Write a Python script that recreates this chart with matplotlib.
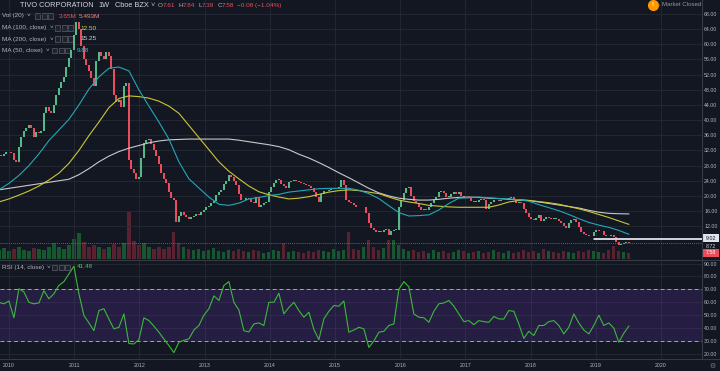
import numpy as np
import pandas as pd
import matplotlib
matplotlib.use('Agg')
import matplotlib.pyplot as plt
import matplotlib.dates as mdates
from matplotlib.patches import Rectangle
from matplotlib.lines import Line2D

# ---- data (biweekly closes, TIVO / ROVI weekly chart) ----
c2009 = [30.8, 30.5, 31.0, 31.5]
c2010 = [31.5, 31.2, 29.5, 29.0, 33.0, 35.5, 37.0, 38.0, 38.7, 38.0, 35.6, 36.8, 36.5,
         37.2, 41.9, 43.5, 42.5, 42.0, 44.0, 46.5, 48.5, 50.0, 51.5, 54.0, 56.5, 58.5]
c2011 = [62.5, 66.0, 64.0, 59.5, 56.0, 54.5, 53.0, 51.0, 49.0, 55.5, 58.0, 56.8, 56.0,
         58.0, 57.0, 53.5, 46.5, 44.7, 45.3, 43.5, 48.9, 49.8, 29.5, 27.0, 26.0, 24.5]
c2012 = [25.0, 30.0, 34.0, 34.8, 35.0, 33.8, 32.2, 30.5, 28.5, 26.0, 24.5, 23.4, 21.0,
         19.5, 18.8, 13.0, 14.8, 15.8, 15.0, 14.4, 13.8, 14.5, 14.8, 15.2, 15.0, 15.8]
c2013 = [16.2, 17.0, 17.4, 18.0, 18.6, 20.2, 21.0, 21.6, 23.2, 24.0, 25.5, 25.0, 24.0,
         22.9, 20.5, 18.9, 18.9, 19.5, 19.2, 18.5, 18.0, 19.6, 17.0, 17.5, 18.0, 18.3]
c2014 = [21.0, 22.3, 23.5, 24.2, 24.2, 23.2, 22.5, 22.0, 23.7, 24.0, 24.2, 24.0, 23.7,
         23.4, 23.2, 22.9, 22.5, 22.0, 21.0, 19.7, 18.4, 20.4, 21.2, 21.4, 21.6, 21.8]
c2015 = [22.0, 22.2, 22.4, 24.2, 22.9, 19.0, 18.4, 18.0, 17.5, 17.0, 17.0, 17.2, 17.0,
         15.5, 12.8, 11.6, 11.0, 10.5, 10.8, 10.5, 11.0, 11.3, 9.6, 10.8, 11.0, 11.0]
c2016 = [17.0, 19.0, 20.8, 22.1, 22.4, 20.0, 18.6, 18.0, 17.0, 16.3, 16.5, 16.2, 17.0,
         18.0, 19.0, 19.8, 21.0, 21.2, 20.8, 19.8, 19.8, 20.5, 21.0, 20.4, 21.0, 20.0]
c2017 = [19.4, 19.4, 19.6, 18.6, 18.4, 18.4, 18.9, 19.2, 18.8, 16.5, 17.8, 18.4, 18.8,
         18.9, 18.7, 18.9, 19.0, 18.9, 19.5, 19.8, 18.9, 18.0, 18.4, 18.2, 16.5, 15.5]
c2018 = [14.4, 14.0, 13.6, 14.3, 15.0, 13.3, 13.8, 14.4, 14.2, 14.0, 14.0, 14.0, 13.3,
         12.8, 12.0, 11.6, 12.8, 13.6, 13.8, 13.0, 11.8, 10.5, 10.0, 9.6, 9.3, 9.5]
c2019 = [10.5, 11.0, 10.7, 10.8, 9.8, 9.3, 9.4, 9.6, 9.2, 7.8, 7.1, 7.3, 7.6, 7.61, 7.58]

# moving averages, sampled every 8 weeks
ma50 = [21.6, 23.3, 25.4, 28.0, 31.1, 34.6, 37.4, 40.2, 44.0, 48.2, 51.4, 53.7, 54.0, 53.0,
        48.0, 43.7, 39.5, 35.0, 29.0, 24.5, 22.1, 19.7, 17.8, 17.5, 18.1, 19.2, 19.6, 20.1,
        20.4, 21.0, 21.3, 21.6, 21.9, 22.0, 22.0, 22.0, 21.5, 20.6, 19.3, 17.4, 15.6, 14.7,
        14.8, 15.0, 16.3, 18.0, 19.4, 19.5, 19.7, 19.5, 19.3, 19.2, 19.0, 18.6, 17.7, 16.9,
        16.1, 15.1, 14.0, 13.0, 12.3, 11.7, 10.9, 9.88]
ma100 = [18.4, 19.2, 20.2, 21.3, 22.6, 24.2, 26.0, 28.6, 32.0, 35.9, 39.5, 43.3, 45.7, 46.4,
         46.2, 45.8, 45.0, 43.7, 41.8, 38.6, 35.4, 32.2, 29.0, 26.5, 24.5, 22.6, 21.1, 20.3,
         19.7, 19.2, 19.4, 19.8, 20.4, 21.0, 21.4, 21.6, 21.4, 21.0, 20.6, 19.7, 18.9, 18.4,
         18.0, 17.5, 17.3, 17.1, 17.0, 17.0, 17.0, 17.0, 17.6, 18.4, 18.8, 18.8, 18.5, 18.2,
         17.8, 17.2, 16.6, 15.9, 15.1, 14.3, 13.4, 12.5]
ma200 = [21.6, 22.0, 22.4, 22.8, 23.2, 23.6, 24.0, 24.4, 25.6, 27.2, 29.0, 30.5, 31.7, 32.6,
         33.3, 34.0, 34.5, 34.8, 34.9, 35.0, 35.0, 35.0, 35.0, 35.0, 34.7, 34.3, 33.9, 33.5,
         33.0, 32.2, 31.0, 30.0, 28.8, 27.5, 26.1, 24.8, 23.4, 22.0, 20.8, 20.0, 19.4, 19.1,
         18.9, 18.9, 19.1, 19.4, 19.6, 19.7, 19.6, 19.4, 19.3, 19.1, 19.0, 18.8, 18.4, 18.0,
         17.6, 17.2, 16.8, 16.2, 15.7, 15.4, 15.3, 15.25]

# RSI(14) and volume, sampled every 4 weeks
rsi = [60, 58.8, 61, 48, 70.5, 68, 60, 58.8, 59.5, 69, 62.7, 66.6, 73.1, 76, 82, 88, 66.6,
       49.7, 44, 38, 53.6, 55, 47, 39.4, 40.6, 51, 28, 27.7, 31, 48, 45.8, 41.5, 36.8, 31.5,
       26.4, 21, 29, 30.5, 31.6, 38.5, 42, 50, 55, 65, 61.4, 73, 76, 60, 54,
       38, 37, 43.2, 44, 42, 60, 60, 67, 51, 56, 60, 53.6, 48.4, 52.3, 39, 31, 47.1, 53, 57.5,
       57, 61, 36.8, 38.5, 40.6, 39.4, 25, 30, 36.8, 37.5, 42, 43.2, 70, 76, 72, 51, 48.4,
       48, 44.5, 53, 58.8, 59.5, 61.4, 57, 51, 45, 45.8, 42.6, 45.8, 45, 44.5, 49, 47.1, 47,
       53.6, 53, 43.2, 32, 37.5, 34.2, 42, 42, 45, 45.8, 42, 35.5, 40.6, 51, 44, 38.5, 35.5,
       42, 50, 42, 44, 40, 29, 36, 41.48]
volume = [9, 11, 8, 10, 12, 9, 8, 11, 10, 9, 12,
          16, 12, 10, 14, 20, 26, 17, 12, 14, 12, 10, 12, 15, 12, 16,
          47, 18, 14, 16, 12, 10, 12, 10, 12, 27, 16, 12, 10, 9,
          10, 8, 9, 11, 8, 7, 9, 8, 10, 8, 7, 9, 8, 6, 7, 9, 8, 16, 7, 8,
          7, 6, 8, 7, 9, 8, 7, 10, 8, 9, 27, 10, 9, 12, 19, 12, 9, 11, 19, 19,
          14, 10, 8, 9, 7, 8, 6, 9, 7, 8, 6, 7, 9, 8, 6, 7, 8, 6, 7, 9,
          7, 6, 8, 6, 7, 9, 7, 8, 6, 10, 8, 7, 6, 8, 7, 6, 8, 7, 9, 8,
          7, 6, 9, 13, 8, 7, 6]

levels = [9.02, 8.72]
level_start = '2018-12-16'
last_price = 7.58
first_date = '2009-11-06'

BG = '#131722'
GRID = '#252934'
TXT = '#b2b5be'
UP = '#53b987'
DOWN = '#eb4d5c'
FONT = ['Liberation Sans', 'DejaVu Sans']
plt.rcParams['font.family'] = FONT

closes = np.array(c2009 + c2010 + c2011 + c2012 + c2013 + c2014 + c2015 + c2016 +
                  c2017 + c2018 + c2019)
opens = np.r_[closes[0], closes[:-1]]
start = pd.Timestamp(first_date)
d_c = mdates.date2num(pd.date_range(start, periods=len(closes), freq='14D'))
d_ma = mdates.date2num(pd.date_range(start, periods=len(ma50), freq='56D'))
d_rsi = mdates.date2num(pd.date_range(start, periods=len(rsi), freq='28D'))
d_vol = mdates.date2num(pd.date_range(start, periods=len(volume), freq='28D'))

W, H = 720, 371
fig = plt.figure(figsize=(W / 100, H / 100), dpi=100, facecolor=BG)


def rect(x0, y0, x1, y1):
    return [x0 / W, 1 - y1 / H, (x1 - x0) / W, (y1 - y0) / H]


ax_vol = fig.add_axes(rect(0, 0, 702, 259))
ax = fig.add_axes(rect(0, 0, 702, 259), sharex=ax_vol)
ax_rsi = fig.add_axes(rect(0, 261, 702, 358), sharex=ax_vol)
ax_vol.set_facecolor(BG)
ax.patch.set_visible(False)
ax_rsi.set_facecolor(BG)
ax_vol.set_zorder(1)
ax.set_zorder(2)

# volume
c_sub = closes[::2]
vol_up = np.r_[True, c_sub[1:] >= c_sub[:-1]]
ax_vol.bar(d_vol, volume, width=18, color=np.where(vol_up, '#17572f', '#5a2230'),
           linewidth=0)
ax_vol.set_ylim(0, max(volume) * 5.5)
ax_vol.axis('off')

# candles
up = closes >= opens
body_lo = np.minimum(opens, closes)
body_h = np.maximum(np.abs(closes - opens), 0.15)
ax.bar(d_c, body_h, bottom=body_lo, width=12, color=np.where(up, UP, DOWN), linewidth=0,
       zorder=3)
ax.plot(d_ma, ma200, color='#c8c8c8', lw=0.8, zorder=4)
ax.plot(d_ma, ma100, color='#c9c634', lw=0.8, zorder=4)
ax.plot(d_ma, ma50, color='#22a7b8', lw=0.8, zorder=4)
ax.axhline(last_price, color=DOWN, lw=0.6, ls=(0, (1, 1.5)), zorder=4)
x_end = mdates.date2num(pd.Timestamp('2020-08-18'))
for lv in levels:
    ax.hlines(lv, mdates.date2num(pd.Timestamp(level_start)), x_end, color='#d1d4dc',
              lw=0.7, zorder=4)

x_start = mdates.date2num(pd.Timestamp('2009-11-12'))
ax.set_xlim(x_start, x_end)
ax.set_ylim(3.35, 71.7)
ax.set_yticks(np.arange(12, 69, 4))
ax.set_yticklabels([f'{v:.2f}' for v in np.arange(12, 69, 4)])

# RSI
ax_rsi.axhspan(30, 70, color='#673ab7', alpha=0.22, lw=0)
for lv in (30, 70):
    ax_rsi.axhline(lv, color='#a3a6af', lw=0.7, ls=(0, (4, 3)))
ax_rsi.plot(d_rsi, rsi, color='#3cb83c', lw=0.8, zorder=3)
ax_rsi.set_ylim(16.8, 92)
ax_rsi.set_yticks(np.arange(20, 91, 10))
ax_rsi.set_yticklabels([f'{v:.2f}' for v in np.arange(20, 91, 10)])

years = list(range(2010, 2021))
ax_rsi.set_xticks([mdates.date2num(pd.Timestamp(f'{y}-01-01')) for y in years])
ax_rsi.set_xticklabels([str(y) for y in years])

for a in (ax, ax_rsi):
    for s in a.spines.values():
        s.set_visible(False)
    a.grid(True, color=GRID, lw=0.6)
    a.set_axisbelow(True)
    a.yaxis.tick_right()
    a.tick_params(axis='y', length=0, pad=1.5, labelsize=3.8, labelcolor=TXT)
    a.tick_params(axis='x', length=0, pad=3.5, labelsize=3.8, labelcolor=TXT)
ax.tick_params(axis='x', labelbottom=False)

# pane borders
for xs, ys in (([702, 702], [0, 359]), ([0, 720], [260, 260]), ([0, 720], [359, 359])):
    fig.add_artist(Line2D([x / W for x in xs], [1 - y / H for y in ys], color='#363a45',
                          lw=0.8, transform=fig.transFigure))

renderer = fig.canvas.get_renderer()


def runs(x, y, parts, size=4.6):
    for p in parts:
        if isinstance(p, (int, float)):
            x += p
            continue
        s, c = p
        t = fig.text(x / W, 1 - y / H, s, color=c, fontsize=size, va='center', ha='left')
        x += t.get_window_extent(renderer).width


def icons(x, y):
    for i in range(3):
        fig.add_artist(Rectangle(((x + i * 6.5) / W, 1 - (y + 2.5) / H), 5 / W, 5 / H,
                                 transform=fig.transFigure, fill=True, fc='#1e222d',
                                 ec='#5d606b', lw=0.5))


runs(20, 5.5, [('TIVO CORPORATION', '#d1d4dc'), 5, ('1W', '#d1d4dc'), 5,
               ('Cboe BZX', '#d1d4dc'), 2, ('˅', TXT)], size=5.3)
runs(158, 5.5, [('O', TXT), ('7.61', DOWN), 3, ('H', TXT), ('7.84', DOWN), 3,
                ('L', TXT), ('7.39', DOWN), 3, ('C', TXT), ('7.58', DOWN), 3,
                ('−0.08 (−1.04%)', DOWN)], size=4.6)
runs(2, 16, [('Vol (20)', TXT), 3, ('˅', TXT)])
icons(35, 16)
runs(59, 16, [('3.65M', DOWN), 2, ('5.493M', '#f08a86')])
runs(2, 28, [('MA (100, close)', TXT), 3, ('˅', TXT)])
icons(55, 28)
runs(80, 28, [('12.50', '#d8d64a')])
runs(2, 39, [('MA (200, close)', TXT), 3, ('˅', TXT)])
icons(55, 39)
runs(80, 39, [('15.25', '#d1d4dc')])
runs(2, 50.5, [('MA (50, close)', TXT), 3, ('˅', TXT)])
icons(52, 50.5)
runs(77, 50.5, [('9.88', '#26c6da')])
runs(2, 267, [('RSI (14, close)', TXT), 3, ('˅', TXT)])
icons(52, 267)
runs(77, 267, [('41.48', '#3cd03c')])

# market status
fig.add_artist(Line2D([652.5 / W], [1 - 5 / H], marker='o', ms=7, color='#ff9800', lw=0,
                      transform=fig.transFigure))
fig.text(652.5 / W, 1 - 5 / H, '!', color='white', fontsize=4.5, ha='center', va='center',
         weight='bold')
runs(658, 5, [('•', '#787b86'), 2, ('Market Closed', '#9598a1')], size=4.4)

# price tags on the scale
fig.add_artist(Rectangle((702 / W, 1 - 242 / H), 17 / W, 8 / H, transform=fig.transFigure,
                         fc='#e0e3eb', ec='none'))
fig.text(710.5 / W, 1 - 238 / H, '9.02', color=BG, fontsize=3.8, ha='center', va='center')
fig.text(710.5 / W, 1 - 247 / H, '8.72', color='#d1d4dc', fontsize=3.8, ha='center',
         va='center')
fig.add_artist(Rectangle((702 / W, 1 - 257 / H), 17 / W, 8 / H, transform=fig.transFigure,
                         fc=DOWN, ec='none'))
fig.text(710.5 / W, 1 - 253 / H, '7.58', color='white', fontsize=3.8, ha='center',
         va='center')
fig.text(712 / W, 1 - 366 / H, '⚙', color='#787b86', fontsize=5, ha='center', va='center',
         family='DejaVu Sans')

fig.savefig('out.png', dpi=100, facecolor=BG)
